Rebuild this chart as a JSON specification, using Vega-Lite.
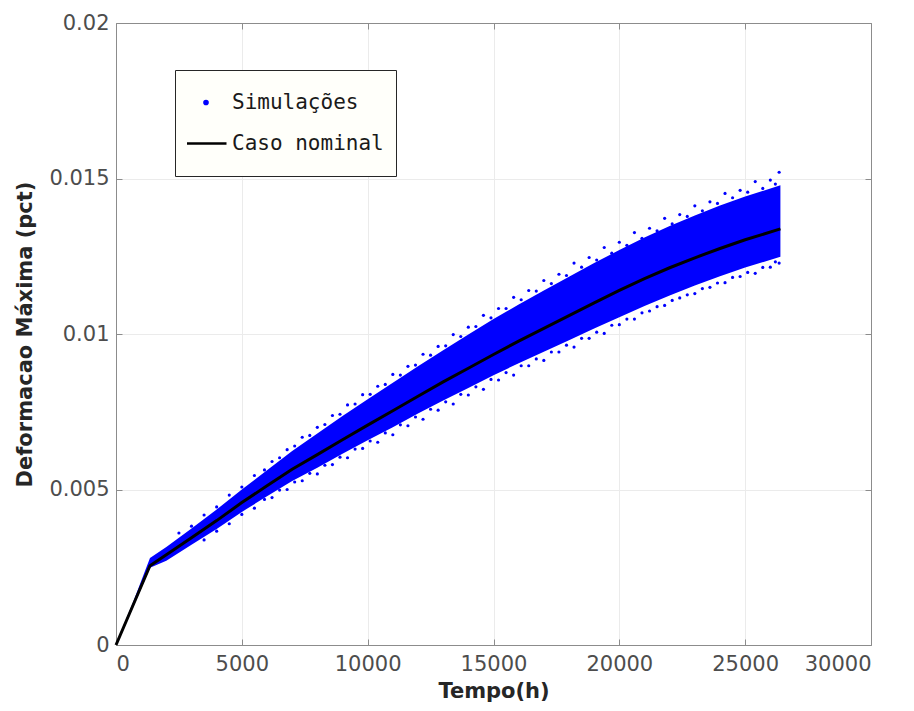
{
  "$schema": "https://vega.github.io/schema/vega-lite/v6.json",
  "width": 755,
  "height": 622,
  "autosize": {"type": "none"},
  "padding": {"left": 116, "top": 23, "right": 43, "bottom": 66},
  "background": "white",
  "config": {
    "view": {"stroke": null},
    "axis": {
      "labelFont": "DejaVu Sans", "labelFontSize": 21, "labelColor": "#4d4d4d",
      "titleFont": "DejaVu Sans", "titleFontSize": 21, "titleFontWeight": "bold", "titleColor": "#262626",
      "domainColor": "#8c8c8c", "tickColor": "#8c8c8c", "gridColor": "#ebebeb", "gridWidth": 1
    },
    "legend": {
      "title": null, "orient": "none", "legendX": 59, "legendY": 47,
      "fillColor": "#fffffa", "strokeColor": "#262626", "padding": 12,
      "labelFont": "DejaVu Sans Mono", "labelFontSize": 21, "labelColor": "#1a1a1a",
      "labelOffset": 4, "symbolOffset": -3, "rowPadding": 0, "clipHeight": 41,
      "symbolStrokeWidth": 2.5, "symbolOpacity": 1
    }
  },
  "datasets": {
    "band": [
      {"t": 0, "lo": 0, "hi": 0.00003, "serie": "Simulações"},
      {"t": 700, "lo": 0.00125, "hi": 0.00142, "serie": "Simulações"},
      {"t": 1350, "lo": 0.00248, "hi": 0.0028, "serie": "Simulações"},
      {"t": 2000, "lo": 0.00271, "hi": 0.00315, "serie": "Simulações"},
      {"t": 3000, "lo": 0.00322, "hi": 0.00375, "serie": "Simulações"},
      {"t": 4000, "lo": 0.00373, "hi": 0.00436, "serie": "Simulações"},
      {"t": 5000, "lo": 0.00428, "hi": 0.005, "serie": "Simulações"},
      {"t": 6000, "lo": 0.00478, "hi": 0.00562, "serie": "Simulações"},
      {"t": 7000, "lo": 0.00527, "hi": 0.00624, "serie": "Simulações"},
      {"t": 8000, "lo": 0.0057, "hi": 0.0068, "serie": "Simulações"},
      {"t": 9000, "lo": 0.00615, "hi": 0.00736, "serie": "Simulações"},
      {"t": 10000, "lo": 0.00658, "hi": 0.0079, "serie": "Simulações"},
      {"t": 11000, "lo": 0.007, "hi": 0.00843, "serie": "Simulações"},
      {"t": 12000, "lo": 0.00744, "hi": 0.00896, "serie": "Simulações"},
      {"t": 13000, "lo": 0.00786, "hi": 0.00948, "serie": "Simulações"},
      {"t": 14000, "lo": 0.00826, "hi": 0.00998, "serie": "Simulações"},
      {"t": 15000, "lo": 0.00867, "hi": 0.01048, "serie": "Simulações"},
      {"t": 16000, "lo": 0.00906, "hi": 0.01095, "serie": "Simulações"},
      {"t": 17000, "lo": 0.00943, "hi": 0.0114, "serie": "Simulações"},
      {"t": 18000, "lo": 0.0098, "hi": 0.01184, "serie": "Simulações"},
      {"t": 19000, "lo": 0.01018, "hi": 0.01228, "serie": "Simulações"},
      {"t": 20000, "lo": 0.01054, "hi": 0.0127, "serie": "Simulações"},
      {"t": 21000, "lo": 0.0109, "hi": 0.0131, "serie": "Simulações"},
      {"t": 22000, "lo": 0.01124, "hi": 0.01347, "serie": "Simulações"},
      {"t": 23000, "lo": 0.01156, "hi": 0.01381, "serie": "Simulações"},
      {"t": 24000, "lo": 0.01186, "hi": 0.01413, "serie": "Simulações"},
      {"t": 25000, "lo": 0.01214, "hi": 0.01442, "serie": "Simulações"},
      {"t": 26400, "lo": 0.01248, "hi": 0.01478, "serie": "Simulações"}
    ],
    "pts": [
      {"t": 2500, "v": 0.0036, "serie": "Simulações"},
      {"t": 3000, "v": 0.00382, "serie": "Simulações"},
      {"t": 3500, "v": 0.00418, "serie": "Simulações"},
      {"t": 4000, "v": 0.00444, "serie": "Simulações"},
      {"t": 4500, "v": 0.00482, "serie": "Simulações"},
      {"t": 5000, "v": 0.00508, "serie": "Simulações"},
      {"t": 5500, "v": 0.00545, "serie": "Simulações"},
      {"t": 5900, "v": 0.00563, "serie": "Simulações"},
      {"t": 6200, "v": 0.0059, "serie": "Simulações"},
      {"t": 6500, "v": 0.00602, "serie": "Simulações"},
      {"t": 6800, "v": 0.00628, "serie": "Simulações"},
      {"t": 7100, "v": 0.0064, "serie": "Simulações"},
      {"t": 7400, "v": 0.00668, "serie": "Simulações"},
      {"t": 7700, "v": 0.00674, "serie": "Simulações"},
      {"t": 8000, "v": 0.007, "serie": "Simulações"},
      {"t": 8300, "v": 0.00709, "serie": "Simulações"},
      {"t": 8600, "v": 0.00738, "serie": "Simulações"},
      {"t": 8900, "v": 0.00742, "serie": "Simulações"},
      {"t": 9200, "v": 0.00772, "serie": "Simulações"},
      {"t": 9500, "v": 0.00775, "serie": "Simulações"},
      {"t": 9800, "v": 0.00805, "serie": "Simulações"},
      {"t": 10100, "v": 0.00806, "serie": "Simulações"},
      {"t": 10400, "v": 0.00832, "serie": "Simulações"},
      {"t": 10700, "v": 0.00838, "serie": "Simulações"},
      {"t": 11000, "v": 0.0087, "serie": "Simulações"},
      {"t": 11300, "v": 0.00868, "serie": "Simulações"},
      {"t": 11600, "v": 0.00896, "serie": "Simulações"},
      {"t": 11900, "v": 0.009, "serie": "Simulações"},
      {"t": 12200, "v": 0.00935, "serie": "Simulações"},
      {"t": 12500, "v": 0.00932, "serie": "Simulações"},
      {"t": 12800, "v": 0.0096, "serie": "Simulações"},
      {"t": 13100, "v": 0.00962, "serie": "Simulações"},
      {"t": 13400, "v": 0.00998, "serie": "Simulações"},
      {"t": 13700, "v": 0.00992, "serie": "Simulações"},
      {"t": 14000, "v": 0.01022, "serie": "Simulações"},
      {"t": 14300, "v": 0.01024, "serie": "Simulações"},
      {"t": 14600, "v": 0.0106, "serie": "Simulações"},
      {"t": 14900, "v": 0.01052, "serie": "Simulações"},
      {"t": 15200, "v": 0.01082, "serie": "Simulações"},
      {"t": 15500, "v": 0.01082, "serie": "Simulações"},
      {"t": 15800, "v": 0.01118, "serie": "Simulações"},
      {"t": 16100, "v": 0.0111, "serie": "Simulações"},
      {"t": 16400, "v": 0.0114, "serie": "Simulações"},
      {"t": 16700, "v": 0.01138, "serie": "Simulações"},
      {"t": 17000, "v": 0.01172, "serie": "Simulações"},
      {"t": 17300, "v": 0.01162, "serie": "Simulações"},
      {"t": 17600, "v": 0.01192, "serie": "Simulações"},
      {"t": 17900, "v": 0.01188, "serie": "Simulações"},
      {"t": 18200, "v": 0.01228, "serie": "Simulações"},
      {"t": 18500, "v": 0.01215, "serie": "Simulações"},
      {"t": 18800, "v": 0.01246, "serie": "Simulações"},
      {"t": 19100, "v": 0.01238, "serie": "Simulações"},
      {"t": 19400, "v": 0.01278, "serie": "Simulações"},
      {"t": 19700, "v": 0.0126, "serie": "Simulações"},
      {"t": 20000, "v": 0.01295, "serie": "Simulações"},
      {"t": 20300, "v": 0.01285, "serie": "Simulações"},
      {"t": 20600, "v": 0.01326, "serie": "Simulações"},
      {"t": 20900, "v": 0.01308, "serie": "Simulações"},
      {"t": 21200, "v": 0.0134, "serie": "Simulações"},
      {"t": 21500, "v": 0.01332, "serie": "Simulações"},
      {"t": 21800, "v": 0.01372, "serie": "Simulações"},
      {"t": 22100, "v": 0.01354, "serie": "Simulações"},
      {"t": 22400, "v": 0.01384, "serie": "Simulações"},
      {"t": 22700, "v": 0.01378, "serie": "Simulações"},
      {"t": 23000, "v": 0.01412, "serie": "Simulações"},
      {"t": 23300, "v": 0.01396, "serie": "Simulações"},
      {"t": 23600, "v": 0.01425, "serie": "Simulações"},
      {"t": 23900, "v": 0.0142, "serie": "Simulações"},
      {"t": 24200, "v": 0.01452, "serie": "Simulações"},
      {"t": 24500, "v": 0.01438, "serie": "Simulações"},
      {"t": 24800, "v": 0.01462, "serie": "Simulações"},
      {"t": 25100, "v": 0.01456, "serie": "Simulações"},
      {"t": 25400, "v": 0.0149, "serie": "Simulações"},
      {"t": 25700, "v": 0.01468, "serie": "Simulações"},
      {"t": 26000, "v": 0.01495, "serie": "Simulações"},
      {"t": 26200, "v": 0.01482, "serie": "Simulações"},
      {"t": 26350, "v": 0.0152, "serie": "Simulações"},
      {"t": 3500, "v": 0.00338, "serie": "Simulações"},
      {"t": 4000, "v": 0.00366, "serie": "Simulações"},
      {"t": 4500, "v": 0.0039, "serie": "Simulações"},
      {"t": 5000, "v": 0.0042, "serie": "Simulações"},
      {"t": 5500, "v": 0.0044, "serie": "Simulações"},
      {"t": 5900, "v": 0.00468, "serie": "Simulações"},
      {"t": 6200, "v": 0.00474, "serie": "Simulações"},
      {"t": 6500, "v": 0.00498, "serie": "Simulações"},
      {"t": 6800, "v": 0.005, "serie": "Simulações"},
      {"t": 7100, "v": 0.00524, "serie": "Simulações"},
      {"t": 7400, "v": 0.00528, "serie": "Simulações"},
      {"t": 7700, "v": 0.00552, "serie": "Simulações"},
      {"t": 8000, "v": 0.0055, "serie": "Simulações"},
      {"t": 8300, "v": 0.00578, "serie": "Simulações"},
      {"t": 8600, "v": 0.0058, "serie": "Simulações"},
      {"t": 8900, "v": 0.00604, "serie": "Simulações"},
      {"t": 9200, "v": 0.00602, "serie": "Simulações"},
      {"t": 9500, "v": 0.0063, "serie": "Simulações"},
      {"t": 9800, "v": 0.00632, "serie": "Simulações"},
      {"t": 10100, "v": 0.00656, "serie": "Simulações"},
      {"t": 10400, "v": 0.00652, "serie": "Simulações"},
      {"t": 10700, "v": 0.00682, "serie": "Simulações"},
      {"t": 11000, "v": 0.00676, "serie": "Simulações"},
      {"t": 11300, "v": 0.00708, "serie": "Simulações"},
      {"t": 11600, "v": 0.00705, "serie": "Simulações"},
      {"t": 11900, "v": 0.00733, "serie": "Simulações"},
      {"t": 12200, "v": 0.00726, "serie": "Simulações"},
      {"t": 12500, "v": 0.00758, "serie": "Simulações"},
      {"t": 12800, "v": 0.00755, "serie": "Simulações"},
      {"t": 13100, "v": 0.00782, "serie": "Simulações"},
      {"t": 13400, "v": 0.00775, "serie": "Simulações"},
      {"t": 13700, "v": 0.00806, "serie": "Simulações"},
      {"t": 14000, "v": 0.00804, "serie": "Simulações"},
      {"t": 14300, "v": 0.0083, "serie": "Simulações"},
      {"t": 14600, "v": 0.00822, "serie": "Simulações"},
      {"t": 14900, "v": 0.00854, "serie": "Simulações"},
      {"t": 15200, "v": 0.00852, "serie": "Simulações"},
      {"t": 15500, "v": 0.00876, "serie": "Simulações"},
      {"t": 15800, "v": 0.00868, "serie": "Simulações"},
      {"t": 16100, "v": 0.00898, "serie": "Simulações"},
      {"t": 16400, "v": 0.00898, "serie": "Simulações"},
      {"t": 16700, "v": 0.0092, "serie": "Simulações"},
      {"t": 17000, "v": 0.00915, "serie": "Simulações"},
      {"t": 17300, "v": 0.00942, "serie": "Simulações"},
      {"t": 17600, "v": 0.00942, "serie": "Simulações"},
      {"t": 17900, "v": 0.00964, "serie": "Simulações"},
      {"t": 18200, "v": 0.00958, "serie": "Simulações"},
      {"t": 18500, "v": 0.00986, "serie": "Simulações"},
      {"t": 18800, "v": 0.00986, "serie": "Simulações"},
      {"t": 19100, "v": 0.01006, "serie": "Simulações"},
      {"t": 19400, "v": 0.01002, "serie": "Simulações"},
      {"t": 19700, "v": 0.01028, "serie": "Simulações"},
      {"t": 20000, "v": 0.0103, "serie": "Simulações"},
      {"t": 20300, "v": 0.01048, "serie": "Simulações"},
      {"t": 20600, "v": 0.01048, "serie": "Simulações"},
      {"t": 20900, "v": 0.01068, "serie": "Simulações"},
      {"t": 21200, "v": 0.01074, "serie": "Simulações"},
      {"t": 21500, "v": 0.01088, "serie": "Simulações"},
      {"t": 21800, "v": 0.01092, "serie": "Simulações"},
      {"t": 22100, "v": 0.01108, "serie": "Simulações"},
      {"t": 22400, "v": 0.01116, "serie": "Simulações"},
      {"t": 22700, "v": 0.01126, "serie": "Simulações"},
      {"t": 23000, "v": 0.0113, "serie": "Simulações"},
      {"t": 23300, "v": 0.01146, "serie": "Simulações"},
      {"t": 23600, "v": 0.0115, "serie": "Simulações"},
      {"t": 23900, "v": 0.01164, "serie": "Simulações"},
      {"t": 24200, "v": 0.01165, "serie": "Simulações"},
      {"t": 24500, "v": 0.01182, "serie": "Simulações"},
      {"t": 24800, "v": 0.01185, "serie": "Simulações"},
      {"t": 25100, "v": 0.01198, "serie": "Simulações"},
      {"t": 25400, "v": 0.01195, "serie": "Simulações"},
      {"t": 25700, "v": 0.01214, "serie": "Simulações"},
      {"t": 26000, "v": 0.01215, "serie": "Simulações"},
      {"t": 26200, "v": 0.01232, "serie": "Simulações"},
      {"t": 26350, "v": 0.01228, "serie": "Simulações"}
    ],
    "nom": [
      {"t": 0, "v": 0, "serie": "Caso nominal"},
      {"t": 1350, "v": 0.00255, "serie": "Caso nominal"},
      {"t": 2000, "v": 0.0029, "serie": "Caso nominal"},
      {"t": 3000, "v": 0.00345, "serie": "Caso nominal"},
      {"t": 4000, "v": 0.004, "serie": "Caso nominal"},
      {"t": 5000, "v": 0.00458, "serie": "Caso nominal"},
      {"t": 6000, "v": 0.00512, "serie": "Caso nominal"},
      {"t": 7000, "v": 0.00565, "serie": "Caso nominal"},
      {"t": 8000, "v": 0.00612, "serie": "Caso nominal"},
      {"t": 9000, "v": 0.0066, "serie": "Caso nominal"},
      {"t": 10000, "v": 0.00707, "serie": "Caso nominal"},
      {"t": 11000, "v": 0.00753, "serie": "Caso nominal"},
      {"t": 12000, "v": 0.008, "serie": "Caso nominal"},
      {"t": 13000, "v": 0.00846, "serie": "Caso nominal"},
      {"t": 14000, "v": 0.0089, "serie": "Caso nominal"},
      {"t": 15000, "v": 0.00934, "serie": "Caso nominal"},
      {"t": 16000, "v": 0.00977, "serie": "Caso nominal"},
      {"t": 17000, "v": 0.01018, "serie": "Caso nominal"},
      {"t": 18000, "v": 0.01059, "serie": "Caso nominal"},
      {"t": 19000, "v": 0.011, "serie": "Caso nominal"},
      {"t": 20000, "v": 0.0114, "serie": "Caso nominal"},
      {"t": 21000, "v": 0.01178, "serie": "Caso nominal"},
      {"t": 22000, "v": 0.01213, "serie": "Caso nominal"},
      {"t": 23000, "v": 0.01245, "serie": "Caso nominal"},
      {"t": 24000, "v": 0.01275, "serie": "Caso nominal"},
      {"t": 25000, "v": 0.01303, "serie": "Caso nominal"},
      {"t": 26400, "v": 0.01338, "serie": "Caso nominal"}
    ]
  },
  "layer": [
    {
      "layer": [
        {
          "data": {"name": "band"},
          "mark": {"type": "area", "opacity": 1},
          "encoding": {
            "x": {"field": "t", "type": "quantitative",
                  "scale": {"domain": [0, 30000], "nice": false, "zero": false},
                  "axis": {"title": "Tempo(h)", "values": [0, 5000, 10000, 15000, 20000, 25000, 30000], "format": "d",
                           "grid": true, "tickSize": -6, "labelPadding": 14, "titlePadding": 6}},
            "y": {"field": "lo", "type": "quantitative",
                  "scale": {"domain": [0, 0.02], "nice": false, "zero": false},
                  "axis": {"title": "Deformacao Máxima (pct)", "values": [0, 0.005, 0.01, 0.015, 0.02], "format": "~g",
                           "grid": true, "tickSize": -6, "labelPadding": 13, "titlePadding": 13}},
            "y2": {"field": "hi"},
            "color": {"field": "serie", "type": "nominal",
                      "scale": {"domain": ["Simulações", "Caso nominal"], "range": ["#0000ff", "#000000"]}}
          }
        },
        {
          "data": {"name": "pts"},
          "mark": {"type": "point", "filled": true, "opacity": 1},
          "encoding": {
            "x": {"field": "t", "type": "quantitative"},
            "y": {"field": "v", "type": "quantitative"},
            "color": {"field": "serie", "type": "nominal"},
            "shape": {"field": "serie", "type": "nominal",
                      "scale": {"domain": ["Simulações", "Caso nominal"], "range": ["circle", "stroke"]}},
            "size": {"field": "serie", "type": "nominal",
                     "scale": {"domain": ["Simulações", "Caso nominal"], "range": [10, 1681]}}
          }
        }
      ]
    },
    {
      "data": {"name": "nom"},
      "mark": {"type": "line", "strokeWidth": 3},
      "encoding": {
        "x": {"field": "t", "type": "quantitative",
              "scale": {"domain": [0, 30000], "nice": false, "zero": false},
              "axis": {"orient": "top", "labels": false, "title": null, "grid": false, "tickSize": -6,
                       "values": [0, 5000, 10000, 15000, 20000, 25000, 30000]}},
        "y": {"field": "v", "type": "quantitative",
              "scale": {"domain": [0, 0.02], "nice": false, "zero": false},
              "axis": {"orient": "right", "labels": false, "title": null, "grid": false, "tickSize": -6,
                       "values": [0, 0.005, 0.01, 0.015, 0.02]}},
        "color": {"field": "serie", "type": "nominal"}
      }
    }
  ],
  "resolve": {"scale": {"x": "independent", "y": "independent"}}
}
